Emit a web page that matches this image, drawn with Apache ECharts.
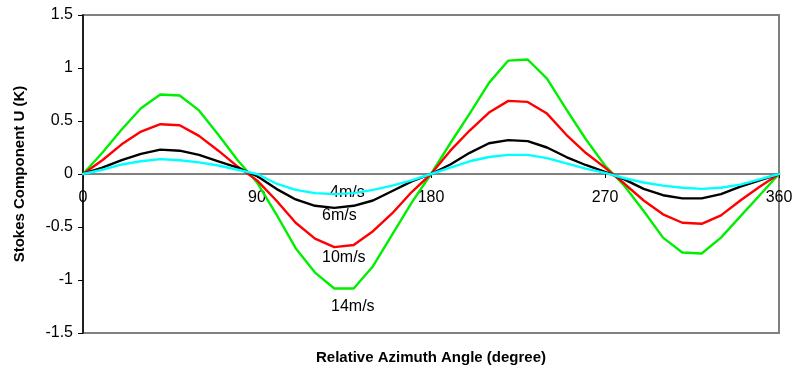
<!DOCTYPE html>
<html>
<head>
<meta charset="utf-8">
<script src="https://cdn.jsdelivr.net/npm/echarts@6/dist/echarts.min.js"></script>
<style>html,body{margin:0;padding:0;background:#fff}#c{width:794px;height:371px}</style>
</head>
<body>
<div id="c"></div>
<script>
const angles = [0,10,20,30,40,50,60,70,80,90,100,110,120,130,140,150,160,170,180,190,200,210,220,230,240,250,260,270,280,290,300,310,320,330,340,350,360];
const u14 = [0,0.20,0.42,0.62,0.75,0.74,0.60,0.37,0.13,-0.08,-0.38,-0.70,-0.93,-1.08,-1.08,-0.87,-0.57,-0.27,0,0.29,0.57,0.86,1.07,1.08,0.90,0.61,0.33,0.08,-0.11,-0.35,-0.60,-0.74,-0.75,-0.60,-0.40,-0.20,0];
const u10 = [0,0.13,0.28,0.40,0.47,0.46,0.36,0.22,0.07,-0.06,-0.25,-0.46,-0.61,-0.69,-0.67,-0.54,-0.37,-0.17,0,0.22,0.41,0.58,0.69,0.68,0.57,0.37,0.20,0.06,-0.09,-0.25,-0.38,-0.46,-0.47,-0.39,-0.25,-0.12,0];
const u6 = [0,0.06,0.13,0.19,0.23,0.22,0.18,0.12,0.06,-0.02,-0.14,-0.24,-0.30,-0.32,-0.30,-0.25,-0.16,-0.07,0,0.09,0.20,0.29,0.32,0.31,0.25,0.16,0.085,0.02,-0.05,-0.14,-0.20,-0.23,-0.23,-0.19,-0.12,-0.06,0];
const u4 = [0,0.04,0.09,0.12,0.14,0.13,0.11,0.08,0.04,0.0,-0.09,-0.15,-0.18,-0.19,-0.18,-0.15,-0.11,-0.06,0,0.06,0.12,0.16,0.18,0.18,0.15,0.10,0.05,0.01,-0.04,-0.08,-0.11,-0.13,-0.14,-0.13,-0.10,-0.05,0];
const seriesNames = ['14m/s','10m/s','6m/s','4m/s'];
const seriesData = [u14,u10,u6,u4];
const colors = ['#00ee00','#ff0000','#000000','#00ffff'];
const xTitle = 'Relative Azimuth Angle (degree)';
const yTitle = 'Stokes Component U (K)';

const chart = echarts.init(document.getElementById('c'), null, {renderer:'canvas'});
const font = 'Arial, "Liberation Sans", sans-serif';
chart.setOption({
  animation:false,
  backgroundColor:'#fff',
  grid:{left:83,right:15,top:15,bottom:38,containLabel:false,outerBoundsMode:'none',show:true,borderColor:'#808080',borderWidth:2,backgroundColor:'transparent'},
  xAxis:{type:'value',min:0,max:360,interval:90,position:'bottom',offset:-159,
    axisLine:{onZero:false,lineStyle:{color:'#808080',width:2}},
    axisTick:{show:true,length:4,lineStyle:{color:'#000',width:1}},
    axisLabel:{color:'#000',fontSize:16,fontFamily:font,margin:16},
    splitLine:{show:false},
    name:xTitle,nameLocation:'middle',nameGap:176,
    nameTextStyle:{color:'#000',fontSize:15,fontWeight:'bold',fontFamily:font}},
  yAxis:{type:'value',min:-1.5,max:1.5,interval:0.5,
    axisLine:{show:true,lineStyle:{color:'#000',width:1.5}},
    axisTick:{show:true,length:5,lineStyle:{color:'#000',width:1}},
    axisLabel:{color:'#000',fontSize:16,fontFamily:font,margin:10},
    splitLine:{show:false},
    name:yTitle,nameLocation:'middle',nameGap:56,
    nameTextStyle:{color:'#000',fontSize:15,fontWeight:'bold',fontFamily:font}},
  series:seriesData.map((d,i)=>({
    name:seriesNames[i],type:'line',showSymbol:false,symbol:'none',
    data:angles.map((a,j)=>[a,d[j]]),
    lineStyle:{color:colors[i],width:2.4,join:'round',cap:'round'},
    z:2+i
  })),
  graphic:[
    {type:'text',left:330,top:185,style:{text:seriesNames[3],font:'16px '+font,fill:'#000'}},
    {type:'text',left:322,top:208,style:{text:seriesNames[2],font:'16px '+font,fill:'#000'}},
    {type:'text',left:322,top:250,style:{text:seriesNames[1],font:'16px '+font,fill:'#000'}},
    {type:'text',left:331,top:299,style:{text:seriesNames[0],font:'16px '+font,fill:'#000'}}
  ]
});
</script>
</body>
</html>
